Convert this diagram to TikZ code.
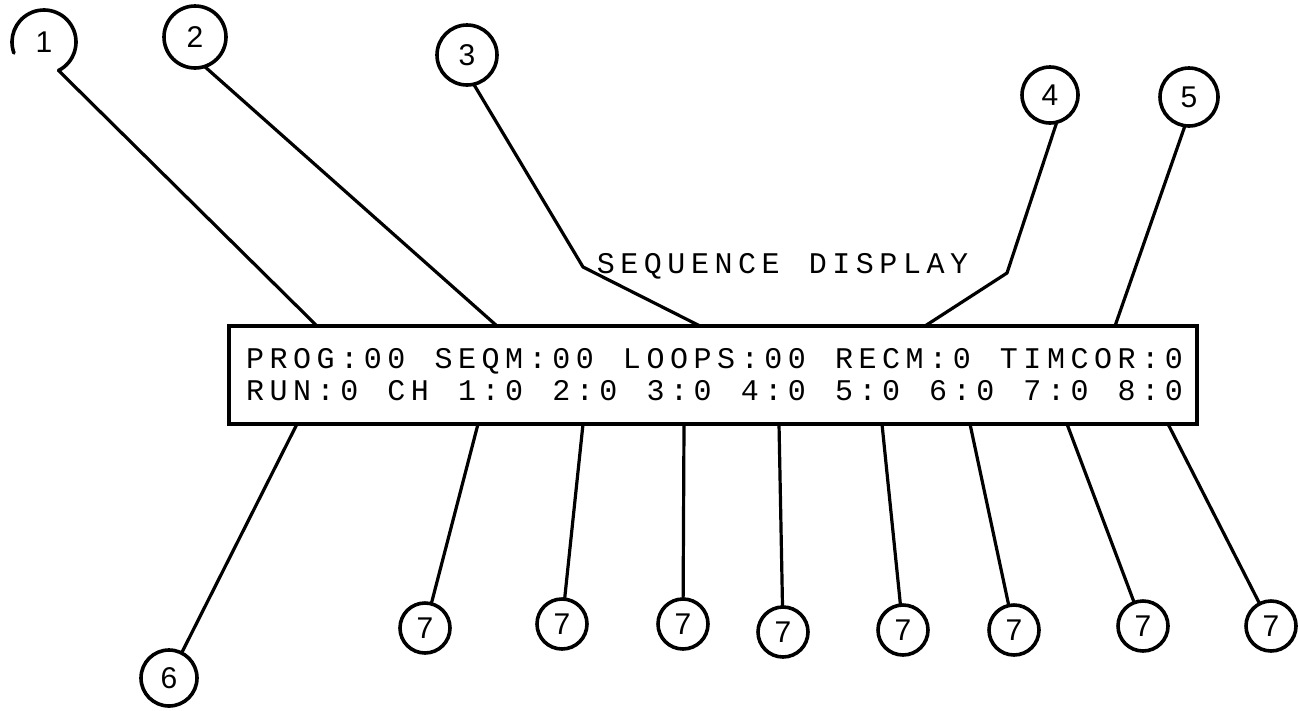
\documentclass[tikz,border=0pt]{standalone}
\usepackage{fontspec}
\setmainfont{Liberation Sans}
\newfontfamily\lcdfont{Liberation Mono}
\makeatletter
\newcommand\lcdtext[1]{\@tfor\lcdc:=#1\do{\makebox[23.56pt]{\lcdc}}}
\makeatother
\begin{document}
\begin{tikzpicture}[x=1pt,y=-1pt,
  lead/.style={line width=3.2pt, line cap=round, line join=round},
  num/.style={circle, draw, line width=3.6pt, inner sep=0pt, outer sep=0pt,
    font=\fontsize{30}{30}\selectfont},
  lcd/.style={font=\lcdfont\fontsize{30}{30}\selectfont, inner sep=0pt, anchor=base},
  screen/.style={draw, line width=3.6pt, inner sep=0pt, outer sep=0pt}]
\useasboundingbox[fill=white] (0,0) rectangle (1300,710);

% display box
\node[screen, minimum width=968pt, minimum height=98pt] (box) at (713,375) {};
\node[lcd] (l1) at (714.5,368) {\lcdtext{PROG:00~SEQM:00~LOOPS:00~RECM:0~TIMCOR:0}};
\node[lcd] (l2) at (714.5,400) {\lcdtext{RUN:0~CH~1:0~2:0~3:0~4:0~5:0~6:0~7:0~8:0}};
\node[lcd] (title) at (782.5,273) {\lcdtext{SEQUENCE~DISPLAY}};

% top callouts
\node[num, draw=none, minimum size=64pt] (c1) at (44,42) {1};
\draw[line width=3.6pt, line cap=round] (c1.-63) arc[start angle=-63, end angle=200, radius=32pt];
\node[num, minimum size=62pt] (c2) at (195,37) {2};
\node[num, minimum size=60pt] (c3) at (467,55) {3};
\node[num, minimum size=56pt] (c4) at (1050,95) {4};
\node[num, minimum size=58pt] (c5) at (1189,97) {5};

\coordinate (t1) at (317,326);
\coordinate (t2) at (497,326);
\coordinate (k3) at (583,267);
\coordinate (t3) at (700,326);
\coordinate (k4) at (1007,273);
\coordinate (t4) at (925,326);
\coordinate (t5) at (1115,326);

\draw[lead] (c1.-63) -- (t1);
\draw[lead] (c2.-72) -- (t2);
\draw[lead] (c3.-77) -- (k3) -- (t3);
\draw[lead] (c4.-76) -- (k4) -- (t4);
\draw[lead] (c5.-98) -- (t5);

% bottom callouts
\node[num, minimum size=56pt] (c6) at (169,678) {6};
\node[num, minimum size=50pt] (c7a) at (425,628) {7};
\node[num, minimum size=50pt] (c7b) at (562,624) {7};
\node[num, minimum size=50pt] (c7c) at (683,624) {7};
\node[num, minimum size=50pt] (c7d) at (783,632) {7};
\node[num, minimum size=50pt] (c7e) at (903,630) {7};
\node[num, minimum size=50pt] (c7f) at (1014,630) {7};
\node[num, minimum size=50pt] (c7g) at (1143,626) {7};
\node[num, minimum size=50pt] (c7h) at (1271,626) {7};

\coordinate (b6) at (297,424);
\coordinate (b7a) at (478,424);
\coordinate (b7b) at (583,424);
\coordinate (b7c) at (684,424);
\coordinate (b7d) at (779,424);
\coordinate (b7e) at (882,424);
\coordinate (b7f) at (970,424);
\coordinate (b7g) at (1067,424);
\coordinate (b7h) at (1168,424);

\draw[lead] (b6) -- (c6);
\draw[lead] (b7a) -- (c7a);
\draw[lead] (b7b) -- (c7b);
\draw[lead] (b7c) -- (c7c);
\draw[lead] (b7d) -- (c7d);
\draw[lead] (b7e) -- (c7e);
\draw[lead] (b7f) -- (c7f);
\draw[lead] (b7g) -- (c7g);
\draw[lead] (b7h) -- (c7h);
\end{tikzpicture}
\end{document}
